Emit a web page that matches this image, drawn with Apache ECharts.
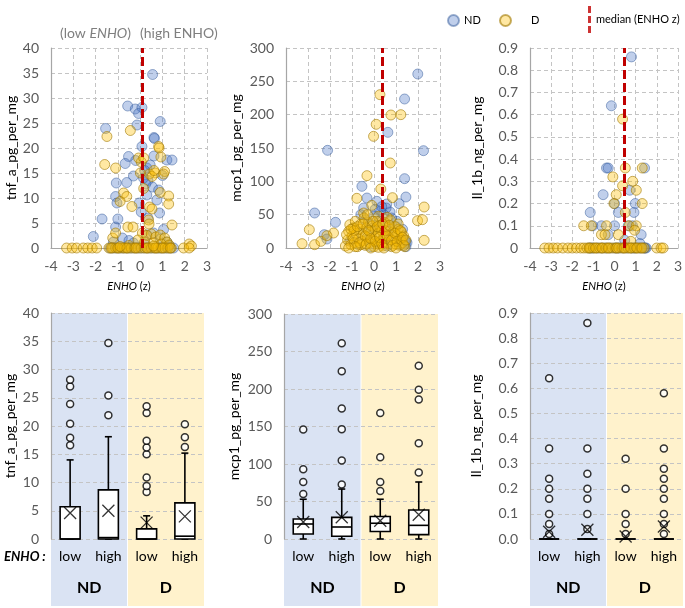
<!DOCTYPE html>
<html>
<head>
<meta charset="utf-8">
<script src="https://cdn.jsdelivr.net/npm/echarts@6/dist/echarts.min.js"></script>
<style>
html, body { margin: 0; padding: 0; background: #fff; }
#chart { width: 685px; height: 608px; }
</style>
</head>
<body>
<div id="chart"></div>
<script>
// scatter: ENHO z-score vs cytokine level, [z, value]
const tnfND = [
  [0.56, 34.7], [-0.56, 28.4], [-0.22, 27.8], [0.08, 28.1], [-0.07, 26.9], [-0.14, 24.6], [-1.55, 23.9],
  [0.9, 25.3], [0.62, 22.1], [0.64, 21.9], [0.08, 20.3], [-0.52, 18.3], [-0.67, 16.9], [0.62, 18.4],
  [1.2, 17.6], [1.43, 17.6], [0.3, 16], [0.45, 16.6], [0.2, 15.5], [0.35, 13.5], [-1.07, 13], [-0.6, 13.1],
  [-0.3, 14.4], [0.25, 12.8], [0.55, 12.2], [-1.1, 10.3], [-1.04, 9], [0.83, 11.6], [0.3, 10.6], [0.75, 9.6],
  [0.87, 7], [-0.04, 9], [0.05, 7.2], [0.35, 6], [-1.71, 5.8], [-1.0, 5.8], [-1.1, 4.2], [-2.1, 2.3],
  [1.05, 3.7], [0.6, 3], [0.3, 2.6], [-0.8, 2], [-0.5, 1.5], [0.9, 1.8], [1.2, 1.2], [1.3, 0.5], [-1.2, 1.2],
  [-0.3, 1], [0.2, 0.8], [1.0, 14.5], [0.15, 14], [-0.2, 17.5],
  [-1.35, 0], [-1.2, 0], [-1.05, 0], [-0.9, 0], [-0.75, 0], [-0.6, 0], [-0.45, 0], [-0.3, 0], [-0.15, 0],
  [0, 0], [0.15, 0], [0.3, 0], [0.45, 0], [0.6, 0], [0.75, 0], [0.9, 0], [1.05, 0], [1.2, 0], [1.35, 0], [1.5, 0]
]
const tnfD = [
  [-0.44, 23.5], [-1.49, 22.3], [-1.59, 16.7], [-1.1, 16], [0.05, 17.2], [-0.07, 18], [0.16, 18], [0.83, 20.3],
  [0.85, 20], [0.93, 18.2], [0.68, 15], [1.1, 15.3], [1.05, 14.8], [0.41, 14.8], [0.53, 14.3], [0.01, 15],
  [0.62, 15.5], [-0.74, 11], [-0.6, 10.3], [-0.9, 9.3], [-0.37, 8.3], [0.9, 11.1], [1.28, 10.4], [1.28, 8.8],
  [0.42, 8.2], [0.53, 7.8], [0.16, 11.9], [1.43, 4.6], [-0.55, 4.2], [-0.32, 4.2], [0.38, 5.6], [0.4, 4.8],
  [-1.23, 2], [-1.1, 3], [0.1, 3], [0.3, 2.5], [0.5, 2.8], [0.7, 2.2], [0.9, 2.6], [1.1, 2], [1.2, 1.2],
  [-0.1, 1.6], [0.2, 1.2], [0.6, 1], [0.95, 0.8], [1.3, 0.6], [-0.5, 0.5], [2.2, 0.8], [2.3, 0.4],
  [-3.3, 0], [-3.05, 0], [-2.85, 0], [-2.55, 0], [-2.35, 0], [-2.15, 0], [-1.95, 0], [-1.4, 0], [-1.25, 0],
  [-1.1, 0], [-0.95, 0], [-0.8, 0], [-0.7, 0], [-0.55, 0], [-0.4, 0], [-0.25, 0], [-0.1, 0], [0.05, 0],
  [0.2, 0], [0.35, 0], [0.5, 0], [0.65, 0], [0.8, 0], [0.95, 0], [1.1, 0], [1.25, 0], [1.4, 0], [1.95, 0], [2.2, 0],
  [-1.3, 0], [-1.0, 0], [-0.6, 0], [-0.2, 0], [0.3, 0], [0.7, 0], [1.0, 0], [1.35, 0], [0.6, 0.4], [-0.9, 0.3]
]
const mcpND = [
  [1.99, 261], [1.39, 223.5], [0.63, 173.5], [-2.11, 146.5], [2.25, 146], [1.39, 104], [1.45, 76.5],
  [1.14, 66.5], [-2.7, 52.5], [-0.55, 92.5], [-0.32, 75], [0.13, 70], [0.58, 66], [0.73, 54], [-0.47, 60],
  [-1.75, 38.5], [-2.26, 20], [-2.14, 13.5], [1.04, 40],
  [-1.1, 10], [-0.9, 30], [-0.7, 5], [-0.5, 25], [-0.4, 42], [-0.3, 12], [-0.2, 35], [-0.1, 20], [0, 48],
  [0.1, 8], [0.2, 30], [0.3, 55], [0.4, 15], [0.5, 38], [0.55, 60], [0.6, 3], [0.7, 25], [0.8, 45],
  [0.9, 10], [1.0, 32], [1.1, 18], [1.2, 5], [1.3, 28], [1.4, 12], [1.45, 2], [1.5, 8], [-0.6, 50],
  [0.35, 62], [0.05, 58], [-0.15, 2], [0.45, 50], [1.45, 10], [0.25, 40], [-0.05, 30]
]
const mcpD = [
  [0.27, 230], [0.77, 199.5], [1.22, 200], [0.1, 185.5], [-0.02, 167.5], [0.74, 127.5], [-0.32, 108.5],
  [0.31, 88.5], [0.84, 75.5], [-0.78, 74.5], [1.34, 54.5], [2.28, 61.5], [1.98, 41], [2.2, 42.5],
  [2.28, 11.5], [-2.94, 27.5], [-3.27, 6.5], [-2.7, 5], [-2.41, 10], [-1.84, 22.5], [-2.14, 18.5],
  [-0.47, 52.5], [-0.1, 64], [0.2, 47.5],
  [-1.3, 3], [-1.2, 12], [-1.15, 25], [-1.1, 35], [-1.05, 5], [-1.0, 18], [-0.95, 30], [-0.9, 8],
  [-0.85, 40], [-0.8, 22], [-0.75, 2], [-0.7, 14], [-0.65, 28], [-0.6, 36], [-0.55, 10], [-0.5, 20],
  [-0.45, 45], [-0.4, 4], [-0.35, 30], [-0.3, 16], [-0.25, 38], [-0.2, 8], [-0.15, 24], [-0.1, 33],
  [-0.05, 12], [0, 2], [0.05, 28], [0.1, 18], [0.12, 40], [0.15, 6], [0.2, 22], [0.25, 34], [0.3, 10],
  [0.35, 26], [0.4, 3], [0.45, 15], [0.5, 38], [0.55, 20], [0.6, 8], [0.65, 30], [0.7, 12], [0.75, 42],
  [0.8, 2], [0.85, 24], [0.9, 16], [0.95, 32], [1.0, 6], [1.05, 20], [1.1, 28], [1.15, 4], [1.2, 14],
  [1.25, 24], [1.3, 8], [1.35, 18], [1.4, 2], [-0.6, 5], [0.2, 1], [-0.9, 26], [0.6, 46], [-0.3, 50],
  [-1.25, 20], [-1.05, 28], [-0.95, 14], [-0.75, 32], [-0.65, 8], [-0.5, 36], [-0.4, 18], [-0.35, 6],
  [-0.25, 26], [-0.15, 14], [-0.05, 40], [0.05, 10], [0.15, 32], [0.25, 16], [0.35, 6], [0.4, 36],
  [0.5, 26], [0.6, 18], [0.7, 34], [0.8, 12], [0.85, 4], [0.95, 22], [1.05, 10], [1.1, 36], [1.2, 26],
  [1.3, 16], [1.35, 4], [1.45, 12], [-0.85, 2], [0.45, 0], [-0.15, 0], [1.0, 0], [-1.15, 0]
]
const il1bND = [
  [0.8, 0.86], [-0.15, 0.64], [-0.38, 0.36], [-0.3, 0.36], [1.42, 0.36], [-0.54, 0.24], [0.72, 0.26],
  [-1.15, 0.16], [0.18, 0.16], [0.92, 0.16], [0.98, 0.2], [0, 0.2], [-1.03, 0.1], [-0.62, 0.1], [0, 0.1],
  [0.65, 0.1], [0.85, 0.1], [1.26, 0.06], [-0.3, 0.06], [0.48, 0.035], [1.2, 0.02],
  [-1.2, 0], [-1.0, 0], [-0.8, 0], [-0.6, 0], [-0.4, 0], [-0.2, 0], [0, 0], [0.2, 0], [0.4, 0], [0.6, 0],
  [0.8, 0], [1.0, 0], [1.2, 0], [1.4, 0], [1.5, 0], [-1.1, 0], [0.1, 0], [0.9, 0], [1.45, 0]
]
const il1bD = [
  [0.38, 0.58], [0.51, 0.36], [1.31, 0.36], [-0.08, 0.32], [0.38, 0.28], [0.86, 0.3], [0.08, 0.24],
  [1.03, 0.26], [-0.03, 0.2], [1.31, 0.2], [0.51, 0.16], [-1.46, 0.1], [-1.1, 0.1], [-0.38, 0.1],
  [0.69, 0.1], [1.03, 0.1], [-0.62, 0.06], [-0.45, 0.06], [0.18, 0.06], [0.95, 0.08], [0.77, 0.03],
  [-3.3, 0], [-3.1, 0], [-2.9, 0], [-2.7, 0], [-2.45, 0], [-2.2, 0], [-2.0, 0], [-1.8, 0], [-1.6, 0],
  [-1.45, 0], [-1.3, 0], [-1.15, 0], [-1.0, 0], [-0.85, 0], [-0.7, 0], [-0.55, 0], [-0.4, 0], [-0.25, 0],
  [-0.1, 0], [0.05, 0], [0.2, 0], [0.35, 0], [0.5, 0], [0.65, 0], [0.8, 0], [0.95, 0], [1.1, 0],
  [1.25, 0], [1.4, 0], [2.0, 0], [2.2, 0], [2.3, 0], [-1.2, 0], [-0.9, 0], [-0.6, 0], [-0.3, 0], [0.1, 0],
  [0.45, 0], [0.75, 0], [1.05, 0], [1.3, 0]
]
const medianZ = [0.11, 0.37, 0.46]

// box plots: [min, Q1, median, Q3, max] for ND low, ND high, D low, D high
const boxCats = ['low', 'high', 'low', 'high']
const groupCats = ['ND', 'D']
const tnfBox = [[0, 0, 0, 5.7, 14], [0, 0, 0.25, 8.7, 18.1], [0, 0, 0, 1.8, 4.1], [0, 0, 0.5, 6.4, 15.2]]
const tnfMean = [4.6, 5.0, 2.9, 4.0]
const tnfOut = [[16.6, 17.9, 20.4, 23.9, 27, 28.2], [21.9, 25.4, 34.7], [8.3, 9.4, 10.9, 15, 16.2, 17.4, 22.3, 23.5], [16.3, 18, 20.3]]
const mcpBox = [[0, 6.7, 20, 26.6, 53], [0, 3.6, 16, 28.8, 66.6], [0, 10, 21, 30, 53], [0, 5.8, 18.2, 38.6, 76]]
const mcpMean = [22.6, 29, 24.4, 32.4]
const mcpOut = [[60, 76, 93, 146], [72.8, 104.7, 146.5, 174, 223.7, 261], [64, 76, 109, 168], [88.8, 127.8, 186, 199, 231]]
const il1bBox = [[0, 0, 0, 0, 0], [0, 0, 0, 0, 0], [0, 0, 0, 0, 0], [0, 0, 0, 0, 0]]
const il1bMean = [0.029, 0.037, 0.01, 0.05]
const il1bOut = [[0.02, 0.06, 0.1, 0.16, 0.2, 0.24, 0.36, 0.64], [0.04, 0.1, 0.16, 0.2, 0.26, 0.36, 0.86], [0.02, 0.06, 0.1, 0.2, 0.32], [0.02, 0.06, 0.1, 0.16, 0.2, 0.24, 0.28, 0.36, 0.58]]

const FONT = 'Lato'
const TICK = { color: '#595959', fontSize: 14, fontFamily: FONT }
const DASH = { lineStyle: { color: '#c4c4c4', type: [4, 3] } }
const AXLINE = { onZero: false, lineStyle: { color: '#a6a6a6', width: 1.2 } }
const grids = [
  { left: 51, top: 48, width: 156, height: 200 },
  { left: 286, top: 48, width: 154, height: 200 },
  { left: 530, top: 48, width: 152, height: 200 },
  { left: 51, top: 313, width: 153, height: 226 },
  { left: 284, top: 314, width: 154, height: 225 },
  { left: 530, top: 313, width: 153, height: 226 }
]
const yNames = ['tnf_a_pg_per_mg', 'mcp1_pg_per_mg', 'Il_1b_ng_per_mg']
const yMax = [40, 300, 0.9]
const yStep = [5, 50, 0.1]
const yGaps = [[33, 43, 46], [34, 43, 47]]
const bandBottom = 606

const xAxis = []
const yAxis = []
for (let i = 0; i < 3; i++) {
  xAxis.push({
    gridIndex: i, type: 'value', min: -4, max: 3, interval: 1,
    axisLine: { show: true, ...AXLINE }, axisTick: { show: false },
    axisLabel: { ...TICK, margin: 11 }, splitLine: { show: true, ...DASH },
    name: '{i|ENHO} (z)', nameLocation: 'middle', nameGap: 33,
    nameTextStyle: { color: '#000', fontSize: 11, fontFamily: FONT, rich: { i: { fontStyle: 'italic', fontSize: 11, fontFamily: FONT } } }
  })
}
for (let j = 0; j < 3; j++) {
  xAxis.push({
    gridIndex: 3 + j, type: 'category', data: boxCats,
    axisLine: { show: false }, axisTick: { show: false }, splitLine: { show: false },
    axisLabel: { color: '#000', fontSize: 14, fontFamily: FONT, margin: 10, interval: 0 }
  })
}
for (let j = 0; j < 3; j++) {
  xAxis.push({
    gridIndex: 3 + j, type: 'category', data: groupCats, position: 'bottom', offset: 30,
    axisLine: { show: false }, axisTick: { show: false }, splitLine: { show: false },
    axisLabel: { color: '#000', fontSize: 16, fontWeight: 'bold', fontFamily: FONT, margin: 11, interval: 0 }
  })
}
for (let k = 0; k < 6; k++) {
  const m = k % 3
  const fmt = m === 2 ? (v) => (k < 3 && v === 0 ? '0' : v.toFixed(1)) : (v) => String(v)
  yAxis.push({
    gridIndex: k, type: 'value', min: 0, max: yMax[m], interval: yStep[m],
    axisLine: { show: true, ...AXLINE }, axisTick: { show: false },
    axisLabel: { ...TICK, margin: 12, formatter: fmt },
    splitLine: { show: true, ...DASH },
    name: yNames[m], nameLocation: 'middle', nameGap: yGaps[k < 3 ? 0 : 1][m],
    nameTextStyle: { color: '#000', fontSize: 14, fontFamily: FONT }
  })
}

// box with short whisker caps, like the spreadsheet version
function renderBox (params, api) {
  const c = api.value(0)
  const pMin = api.coord([c, api.value(1)])
  const pQ1 = api.coord([c, api.value(2)])
  const pMed = api.coord([c, api.value(3)])
  const pQ3 = api.coord([c, api.value(4)])
  const pMax = api.coord([c, api.value(5)])
  const x = pMed[0]
  const half = 10
  const cap = 3.5
  const line = { stroke: '#000', lineWidth: 1.6 }
  return {
    type: 'group',
    children: [
      { type: 'line', shape: { x1: x, y1: pMax[1], x2: x, y2: pQ3[1] }, style: line },
      { type: 'line', shape: { x1: x, y1: pQ1[1], x2: x, y2: pMin[1] }, style: line },
      { type: 'line', shape: { x1: x - cap, y1: pMax[1], x2: x + cap, y2: pMax[1] }, style: line },
      { type: 'line', shape: { x1: x - cap, y1: pMin[1], x2: x + cap, y2: pMin[1] }, style: line },
      { type: 'rect', shape: { x: x - half, y: pQ3[1], width: half * 2, height: pQ1[1] - pQ3[1] }, style: { fill: '#fff', stroke: '#000', lineWidth: 1.6 } },
      { type: 'line', shape: { x1: x - half, y1: pMed[1], x2: x + half, y2: pMed[1] }, style: line }
    ]
  }
}

const scatterSets = [[tnfND, tnfD], [mcpND, mcpD], [il1bND, il1bD]]
const boxSets = [[tnfBox, tnfMean, tnfOut], [mcpBox, mcpMean, mcpOut], [il1bBox, il1bMean, il1bOut]]
const ndStyle = { color: 'rgba(68,114,196,0.42)', borderColor: 'rgba(47,85,151,0.6)', borderWidth: 1 }
const dStyle = { color: 'rgba(255,192,0,0.45)', borderColor: 'rgba(160,120,0,0.75)', borderWidth: 1 }
const series = []
scatterSets.forEach(([nd, d], i) => {
  series.push({ name: 'ND', type: 'scatter', xAxisIndex: i, yAxisIndex: i, data: nd, symbolSize: 10, itemStyle: ndStyle })
  series.push({ name: 'D', type: 'scatter', xAxisIndex: i, yAxisIndex: i, data: d, symbolSize: 10, itemStyle: dStyle })
  series.push({
    name: 'median (ENHO z)', type: 'scatter', xAxisIndex: i, yAxisIndex: i, data: [], z: 5,
    itemStyle: { color: '#c00000' },
    markLine: {
      silent: true, symbol: 'none', label: { show: false },
      lineStyle: { color: '#c00000', width: 3, type: [9, 4] },
      data: [{ xAxis: medianZ[i] }]
    }
  })
})
boxSets.forEach(([box, mean, out], j) => {
  const outPts = []
  out.forEach((vals, c) => vals.forEach((v) => outPts.push([c, v])))
  series.push({
    type: 'custom', xAxisIndex: 3 + j, yAxisIndex: 3 + j, renderItem: renderBox,
    data: box.map((b, c) => [c, ...b]), encode: { x: 0, y: [1, 2, 3, 4, 5] }, z: 3
  })
  series.push({
    type: 'scatter', xAxisIndex: 3 + j, yAxisIndex: 3 + j, data: outPts, symbol: 'circle', symbolSize: 7,
    itemStyle: { color: '#fff', borderColor: '#000', borderWidth: 1.5 }, z: 4
  })
  series.push({
    type: 'scatter', xAxisIndex: 3 + j, yAxisIndex: 3 + j, data: mean.map((v, c) => [c, v]),
    symbol: 'path://M0,0L10,10M10,0L0,10', symbolSize: 12,
    itemStyle: { color: 'none', borderColor: '#000', borderWidth: 1.3 }, z: 5
  })
})

// shaded ND / D bands under the box plots, running down behind the labels
const graphic = []
grids.slice(3).forEach((g) => {
  const half = g.width / 2
  graphic.push({ type: 'rect', z: -10, shape: { x: g.left, y: g.top, width: half - 0.5, height: bandBottom - g.top }, style: { fill: '#dae3f3' } })
  graphic.push({ type: 'rect', z: -10, shape: { x: g.left + half + 0.5, y: g.top, width: half - 0.5, height: bandBottom - g.top }, style: { fill: '#fff2cc' } })
})
graphic.push({ type: 'text', left: 60, top: 26, style: { text: '(low {i|ENHO})', fill: '#7f7f7f', font: '14px Lato', rich: { i: { fontStyle: 'italic', fontSize: 14, fontFamily: FONT, fill: '#7f7f7f' } } } })
graphic.push({ type: 'text', left: 140, top: 26, style: { text: '(high ENHO)', fill: '#7f7f7f', font: '14px Lato' } })
graphic.push({ type: 'text', left: 4, top: 550, style: { text: 'ENHO :', fill: '#000', font: 'italic bold 13px Lato' } })

const legendText = { color: '#000', fontSize: 11, fontFamily: FONT }
const chart = echarts.init(document.getElementById('chart'))
chart.setOption({
  animation: false,
  grid: grids,
  xAxis,
  yAxis,
  legend: [
    { data: ['ND'], left: 442, top: 9, itemWidth: 11, itemHeight: 11, textStyle: legendText },
    { data: ['D'], left: 494, top: 9, itemWidth: 11, itemHeight: 11, textStyle: { ...legendText, padding: [0, 0, 0, 15] } },
    { data: [{ name: 'median (ENHO z)', icon: 'path://M0,0h3v7h-3zM0,10h3v7h-3zM0,20h3v7h-3z' }], left: 583, top: 1, itemWidth: 3, itemHeight: 27, textStyle: legendText }
  ],
  graphic,
  series
})
</script>
</body>
</html>
